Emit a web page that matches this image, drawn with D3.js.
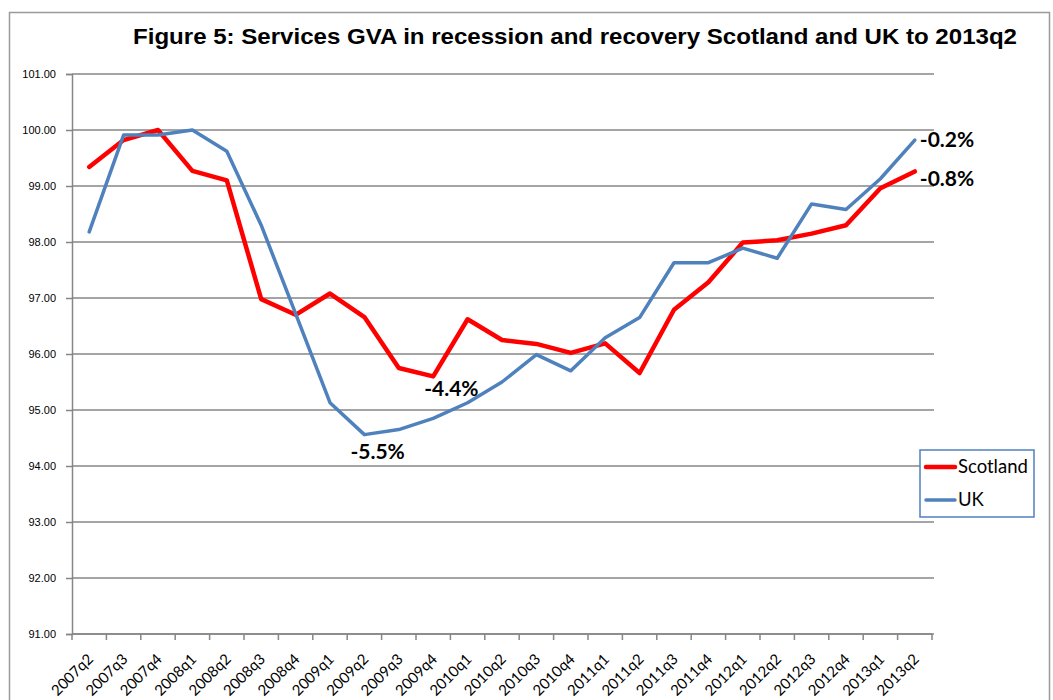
<!DOCTYPE html>
<html>
<head>
<meta charset="utf-8">
<script src="https://cdn.jsdelivr.net/npm/d3@7"></script>
<style>
  html, body { margin: 0; padding: 0; background: #fff; }
  svg { display: block; }
</style>
</head>
<body>
<svg id="chart" width="1053" height="700"></svg>
<script>
// Quarterly services GVA index (peak = 100)
const quarters = ["2007q2","2007q3","2007q4","2008q1","2008q2","2008q3","2008q4",
  "2009q1","2009q2","2009q3","2009q4","2010q1","2010q2","2010q3","2010q4",
  "2011q1","2011q2","2011q3","2011q4","2012q1","2012q2","2012q3","2012q4",
  "2013q1","2013q2"];
const scotland = [99.34, 99.82, 100.00, 99.27, 99.10, 96.98, 96.70,
  97.08, 96.66, 95.75, 95.60, 96.62, 96.25, 96.18, 96.02,
  96.19, 95.66, 96.79, 97.28, 97.99, 98.03, 98.15, 98.30,
  98.96, 99.26];
const uk = [98.18, 99.91, 99.91, 100.00, 99.62, 98.30, 96.72,
  95.13, 94.56, 94.65, 94.85, 95.13, 95.50, 95.99, 95.70,
  96.29, 96.65, 97.63, 97.63, 97.89, 97.71, 98.68, 98.58,
  99.13, 99.82];
const yTicks = [91, 92, 93, 94, 95, 96, 97, 98, 99, 100, 101];
const seriesNames = ["Scotland", "UK"];
const seriesColors = ["#ff0000", "#4f81bd"];

// Change from peak labels: [series index, quarter index, text]
const annotations = [
  [0, 10, "-4.4%"],
  [1, 8, "-5.5%"],
  [1, 24, "-0.2%"],
  [0, 24, "-0.8%"]
];

const svg = d3.select("#chart");

// outer frame
svg.append("rect")
  .attr("x", 9.5).attr("y", 12.5)
  .attr("width", 1040).attr("height", 700)
  .attr("fill", "none").attr("stroke", "#9a9a9a").attr("stroke-width", 1.5);

const plot = { left: 72, right: 932, top: 74, bottom: 634 };

const x = d3.scaleBand().domain(quarters).range([plot.left, plot.right]);
const y = d3.scaleLinear().domain([91, 101]).range([plot.bottom, plot.top]);

// title
svg.append("text")
  .attr("x", 575).attr("y", 44)
  .attr("text-anchor", "middle")
  .attr("font-family", "Liberation Sans, Arial, sans-serif")
  .attr("font-weight", "bold")
  .attr("font-size", 22)
  .attr("textLength", 884).attr("lengthAdjust", "spacingAndGlyphs")
  .attr("fill", "#000")
  .text("Figure 5: Services GVA in recession and recovery Scotland and UK to 2013q2");

// horizontal gridlines
svg.append("g")
  .selectAll("line")
  .data(yTicks)
  .join("line")
  .attr("x1", plot.left).attr("x2", plot.right + 2)
  .attr("y1", d => y(d)).attr("y2", d => y(d))
  .attr("stroke", "#868686").attr("stroke-width", 1.5);

// y axis
const yAxis = svg.append("g")
  .attr("transform", `translate(${plot.left},0)`)
  .call(d3.axisLeft(y).tickValues(yTicks).tickFormat(d3.format(".2f")).tickSize(6).tickPadding(10));
yAxis.select(".domain").attr("stroke", "#868686").attr("stroke-width", 1.5);
yAxis.selectAll(".tick line").attr("stroke", "#868686").attr("stroke-width", 1.5);
yAxis.selectAll(".tick text")
  .attr("font-family", "Liberation Sans, Arial, sans-serif")
  .attr("font-size", 11).attr("fill", "#000");

// x axis: ticks on category boundaries
const xAxisG = svg.append("g").attr("transform", `translate(0,${plot.bottom})`);
xAxisG.append("line")
  .attr("x1", plot.left).attr("x2", plot.right)
  .attr("stroke", "#868686").attr("stroke-width", 1.5);
const boundaries = quarters.map(q => x(q)).concat([x(quarters[quarters.length - 1]) + x.bandwidth()]);
xAxisG.selectAll("line.tk")
  .data(boundaries)
  .join("line").attr("class", "tk")
  .attr("x1", d => d).attr("x2", d => d)
  .attr("y1", 0).attr("y2", 6)
  .attr("stroke", "#868686").attr("stroke-width", 1.5);
xAxisG.selectAll("text")
  .data(quarters)
  .join("text")
  .attr("transform", d => `translate(${x(d) + x.bandwidth() / 2 + 5},${26}) rotate(-45)`)
  .attr("text-anchor", "end")
  .attr("font-family", "Lato, sans-serif")
  .attr("font-size", 15)
  .attr("fill", "#000")
  .text(d => d);

// series lines
const line = d3.line()
  .x((d, i) => x(quarters[i]) + x.bandwidth() / 2)
  .y(d => y(d));

const seriesData = [scotland, uk];
const widths = [4.5, 3.5];
seriesData.forEach((vals, k) => {
  svg.append("path")
    .datum(vals)
    .attr("d", line)
    .attr("fill", "none")
    .attr("stroke", seriesColors[k])
    .attr("stroke-width", widths[k])
    .attr("stroke-linejoin", "round")
    .attr("stroke-linecap", "round");
});

// value-change annotations
const annOffsets = {
  "-4.4%": [-9, 20],
  "-5.5%": [-14, 24],
  "-0.2%": [5, 7],
  "-0.8%": [5, 15]
};
svg.append("g")
  .selectAll("text")
  .data(annotations)
  .join("text")
  .attr("x", d => x(quarters[d[1]]) + x.bandwidth() / 2 + annOffsets[d[2]][0])
  .attr("y", d => y(seriesData[d[0]][d[1]]) + annOffsets[d[2]][1])
  .attr("font-family", "Lato, sans-serif")
  .attr("font-weight", "bold")
  .attr("font-size", 21)
  .attr("fill", "#000")
  .text(d => d[2]);

// legend
const lg = svg.append("g").attr("transform", "translate(920,450)");
lg.append("rect")
  .attr("width", 114).attr("height", 67)
  .attr("fill", "#fff").attr("stroke", "#4f81bd").attr("stroke-width", 1.5);
seriesNames.forEach((name, k) => {
  const yy = 17 + k * 33;
  lg.append("line")
    .attr("x1", 6).attr("x2", 35).attr("y1", yy).attr("y2", yy)
    .attr("stroke", seriesColors[k]).attr("stroke-width", widths[k])
    .attr("stroke-linecap", "round");
  lg.append("text")
    .attr("x", 38).attr("y", yy + 6)
    .attr("font-family", "Lato, sans-serif")
    .attr("font-size", 18.5)
    .attr("fill", "#000")
    .text(name);
});
</script>
</body>
</html>
